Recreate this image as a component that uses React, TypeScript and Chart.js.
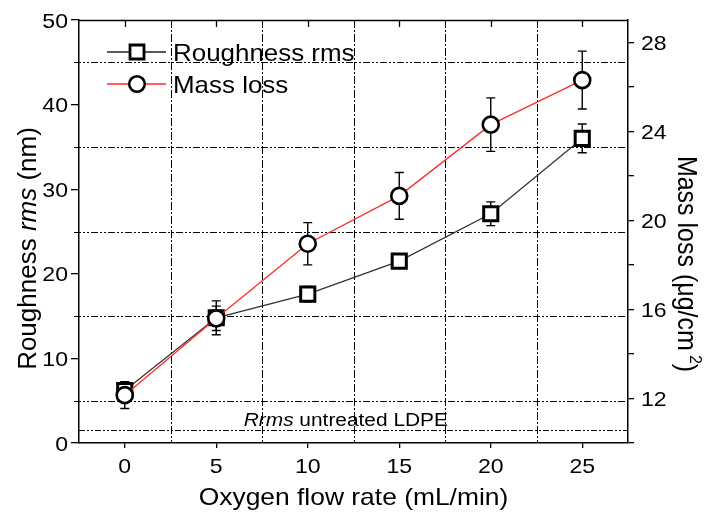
import React, { useEffect, useRef } from "react";
import { Chart, registerables } from "chart.js";
Chart.register(...registerables);

const flowRates = [0, 5, 10, 15, 20, 25];
const roughness = [6.2, 14.8, 17.6, 21.5, 27.1, 36.0];
const roughnessErr = [0.5, 2.0, 0.9, 0.6, 1.4, 1.7];
const massLoss = [12.15, 15.6, 18.95, 21.1, 24.3, 26.3];
const massLossErr = [0.6, 0.55, 0.95, 1.05, 1.2, 1.3];
const untreatedRms = 1.5;
const bottomTicks = [0, 5, 10, 15, 20, 25];
const leftTicks = [0, 10, 20, 30, 40, 50];
const rightTicks = [12, 16, 20, 24, 28];
const rightMinor = [10, 12, 14, 16, 18, 20, 22, 24, 26, 28];
const hGridLeft = [5, 15, 25, 35, 45];
const vGrid = [2.5, 7.5, 12.5, 17.5, 22.5];

const FONT = '"Liberation Sans", Arial, Helvetica, sans-serif';

type Part = { t: string; italic?: boolean; sup?: boolean };

function drawRich(
  ctx: CanvasRenderingContext2D,
  parts: Part[],
  x: number,
  y: number,
  size: number,
  align: "left" | "center" | "right",
  rot: number,
  sx: number,
  sy: number
) {
  ctx.save();
  ctx.translate(x, y);
  ctx.rotate(rot);
  ctx.scale(sx, sy);
  ctx.fillStyle = "#000";
  ctx.textBaseline = "alphabetic";
  ctx.textAlign = "left";
  const fontFor = (p: Part) =>
    `${p.italic ? "italic " : ""}${p.sup ? size * 0.62 : size}px ${FONT}`;
  let w = 0;
  for (const p of parts) {
    ctx.font = fontFor(p);
    w += ctx.measureText(p.t).width;
  }
  let cx = align === "left" ? 0 : align === "center" ? -w / 2 : -w;
  for (const p of parts) {
    ctx.font = fontFor(p);
    ctx.fillText(p.t, cx, p.sup ? -size * 0.42 : 0);
    cx += ctx.measureText(p.t).width;
  }
  ctx.restore();
}

const TICK = 21;
const TICK_SX = 1.1;

const decorPlugin = {
  id: "decor",
  beforeDatasetsDraw(chart: any) {
    const ctx: CanvasRenderingContext2D = chart.ctx;
    const xs = chart.scales.x;
    const ys = chart.scales.y;
    const y2 = chart.scales.y2;
    const a = chart.chartArea;
    ctx.save();
    ctx.strokeStyle = "#000";
    ctx.lineWidth = 1;
    // horizontal dash-dot-dot grid
    ctx.setLineDash([7, 2, 2, 2, 2, 2]);
    for (const v of hGridLeft) {
      const y = Math.round(ys.getPixelForValue(v)) + 0.5;
      ctx.beginPath();
      ctx.moveTo(a.left - 5, y);
      ctx.lineTo(a.right, y);
      ctx.stroke();
    }
    // vertical dash-dot grid
    ctx.setLineDash([8, 2, 2, 2]);
    for (const v of vGrid) {
      const x = Math.round(xs.getPixelForValue(v)) + 0.5;
      ctx.beginPath();
      ctx.moveTo(x, a.top);
      ctx.lineTo(x, a.bottom);
      ctx.stroke();
    }
    // untreated line
    ctx.setLineDash([6, 2, 2, 2, 2, 2]);
    const yu = Math.round(ys.getPixelForValue(untreatedRms)) + 0.5;
    ctx.beginPath();
    ctx.moveTo(a.left, yu);
    ctx.lineTo(a.right, yu);
    ctx.stroke();
    ctx.setLineDash([]);
    // error bars
    ctx.lineWidth = 1.4;
    const cap = 4.5;
    const bars = (vals: number[], errs: number[], sc: any) => {
      flowRates.forEach((fx, i) => {
        const px = xs.getPixelForValue(fx);
        const top = sc.getPixelForValue(vals[i] + errs[i]);
        const bot = sc.getPixelForValue(vals[i] - errs[i]);
        ctx.beginPath();
        ctx.moveTo(px, top);
        ctx.lineTo(px, bot);
        ctx.moveTo(px - cap, top);
        ctx.lineTo(px + cap, top);
        ctx.moveTo(px - cap, bot);
        ctx.lineTo(px + cap, bot);
        ctx.stroke();
      });
    };
    bars(roughness, roughnessErr, ys);
    bars(massLoss, massLossErr, y2);
    ctx.restore();
    // untreated label
    drawRich(
      ctx,
      [{ t: "Rrms", italic: true }, { t: " untreated LDPE" }],
      xs.getPixelForValue(6.5),
      yu - 5,
      18,
      "left",
      0,
      1.16,
      1
    );
  },
  afterDraw(chart: any) {
    const ctx: CanvasRenderingContext2D = chart.ctx;
    const xs = chart.scales.x;
    const ys = chart.scales.y;
    const y2 = chart.scales.y2;
    const a = chart.chartArea;
    ctx.save();
    ctx.strokeStyle = "#000";
    ctx.lineWidth = 1.5;
    ctx.beginPath();
    ctx.moveTo(a.left, a.top + 0.5);
    ctx.lineTo(a.right, a.top + 0.5);
    ctx.stroke();
    ctx.lineWidth = 1.3;
    for (const v of bottomTicks) {
      const x = Math.round(xs.getPixelForValue(v)) + 0.5;
      ctx.beginPath();
      ctx.moveTo(x, a.top);
      ctx.lineTo(x, a.top + 7);
      ctx.stroke();
    }
    // legend
    const leg = [
      { label: "Roughness rms", color: "#222", shape: "rect", y: 52 },
      { label: "Mass loss", color: "#ff2a2a", shape: "circle", y: 84 },
    ];
    for (const l of leg) {
      ctx.strokeStyle = l.color;
      ctx.lineWidth = 1.3;
      ctx.beginPath();
      ctx.moveTo(107, l.y);
      ctx.lineTo(166, l.y);
      ctx.stroke();
      ctx.fillStyle = "#fff";
      ctx.strokeStyle = "#000";
      if (l.shape === "rect") {
        ctx.lineWidth = 2.8;
        ctx.beginPath();
        ctx.rect(137 - 7, l.y - 7, 14, 14);
        ctx.fill();
        ctx.stroke();
      } else {
        ctx.lineWidth = 2.6;
        ctx.beginPath();
        ctx.arc(137, l.y, 7.8, 0, Math.PI * 2);
        ctx.fill();
        ctx.stroke();
      }
      drawRich(ctx, [{ t: l.label }], 173, l.y + 8.5, 24, "left", 0, 1.08, 1);
    }
    ctx.restore();
    // tick labels
    for (const v of bottomTicks) {
      drawRich(ctx, [{ t: String(v) }], xs.getPixelForValue(v), 473, TICK, "center", 0, TICK_SX, 1);
    }
    for (const v of leftTicks) {
      drawRich(ctx, [{ t: String(v) }], 68, ys.getPixelForValue(v) + 0.358 * TICK, TICK, "right", 0, TICK_SX, 1);
    }
    for (const v of rightTicks) {
      drawRich(ctx, [{ t: String(v) }], 641, y2.getPixelForValue(v) + 0.358 * TICK, TICK, "left", 0, TICK_SX, 1);
    }
    // axis titles
    drawRich(ctx, [{ t: "Oxygen flow rate (mL/min)" }], (a.left + a.right) / 2, 505, 24, "center", 0, 1.1, 1);
    drawRich(
      ctx,
      [{ t: "Roughness " }, { t: "rms", italic: true }, { t: " (nm)" }],
      36,
      (a.top + a.bottom) / 2 + 17,
      26,
      "center",
      -Math.PI / 2,
      1,
      1
    );
    drawRich(
      ctx,
      [{ t: "Mass loss (\u03bcg/cm" }, { t: " 2", sup: true }, { t: ")" }],
      678,
      264,
      25,
      "center",
      Math.PI / 2,
      1,
      1.12
    );
  },
};

export default function App() {
  const ref = useRef<HTMLCanvasElement | null>(null);
  useEffect(() => {
    document.body.style.margin = "0";
    const canvas = ref.current!;
    const chart = new Chart(canvas, {
      type: "line",
      data: {
        datasets: [
          {
            label: "Roughness rms",
            data: flowRates.map((x, i) => ({ x, y: roughness[i] })),
            yAxisID: "y",
            borderColor: "#333",
            borderWidth: 1.3,
            pointStyle: "rect",
            pointRadius: 10,
            pointBorderWidth: 3,
            pointBackgroundColor: "#fff",
            pointBorderColor: "#000",
            order: 2,
            tension: 0,
          },
          {
            label: "Mass loss",
            data: flowRates.map((x, i) => ({ x, y: massLoss[i] })),
            yAxisID: "y2",
            borderColor: "#ff2a2a",
            borderWidth: 1.3,
            pointStyle: "circle",
            pointRadius: 8,
            pointBorderWidth: 2.6,
            pointBackgroundColor: "#fff",
            pointBorderColor: "#000",
            order: 1,
            tension: 0,
          },
        ] as any,
      },
      options: {
        animation: false,
        responsive: false,
        events: [],
        layout: { padding: { top: 20, left: 0, right: 0, bottom: 0 } },
        plugins: { legend: { display: false }, tooltip: { enabled: false } },
        scales: {
          x: {
            type: "linear",
            position: "bottom",
            min: -2.5,
            max: 27.5,
            afterBuildTicks: (s: any) => {
              s.ticks = bottomTicks.map((v) => ({ value: v }));
            },
            ticks: { display: false },
            grid: { drawOnChartArea: false, drawTicks: true, tickLength: 5, color: "#000", lineWidth: 1.3 },
            border: { display: true, color: "#000", width: 1.5 },
            afterFit: (s: any) => {
              s.height = 71;
            },
          },
          y: {
            type: "linear",
            position: "left",
            min: 0,
            max: 50,
            afterBuildTicks: (s: any) => {
              s.ticks = leftTicks.map((v) => ({ value: v }));
            },
            ticks: { display: false },
            grid: { drawOnChartArea: false, drawTicks: true, tickLength: 8, color: "#000", lineWidth: 1.3 },
            border: { display: true, color: "#000", width: 1.5 },
            afterFit: (s: any) => {
              s.width = 79;
            },
          },
          y2: {
            type: "linear",
            position: "right",
            min: 10,
            max: 29,
            afterBuildTicks: (s: any) => {
              s.ticks = rightMinor.map((v) => ({ value: v }));
            },
            ticks: { display: false },
            grid: { drawOnChartArea: false, drawTicks: true, tickLength: 6, color: "#000", lineWidth: 1.3 },
            border: { display: true, color: "#000", width: 1.5 },
            afterFit: (s: any) => {
              s.width = 85;
            },
          },
        },
      } as any,
      plugins: [decorPlugin],
    });
    return () => chart.destroy();
  }, []);
  return (
    <div style={{ width: 713, height: 514, background: "#fff" }}>
      <canvas ref={ref} width={713} height={514} style={{ display: "block" }} />
    </div>
  );
}
